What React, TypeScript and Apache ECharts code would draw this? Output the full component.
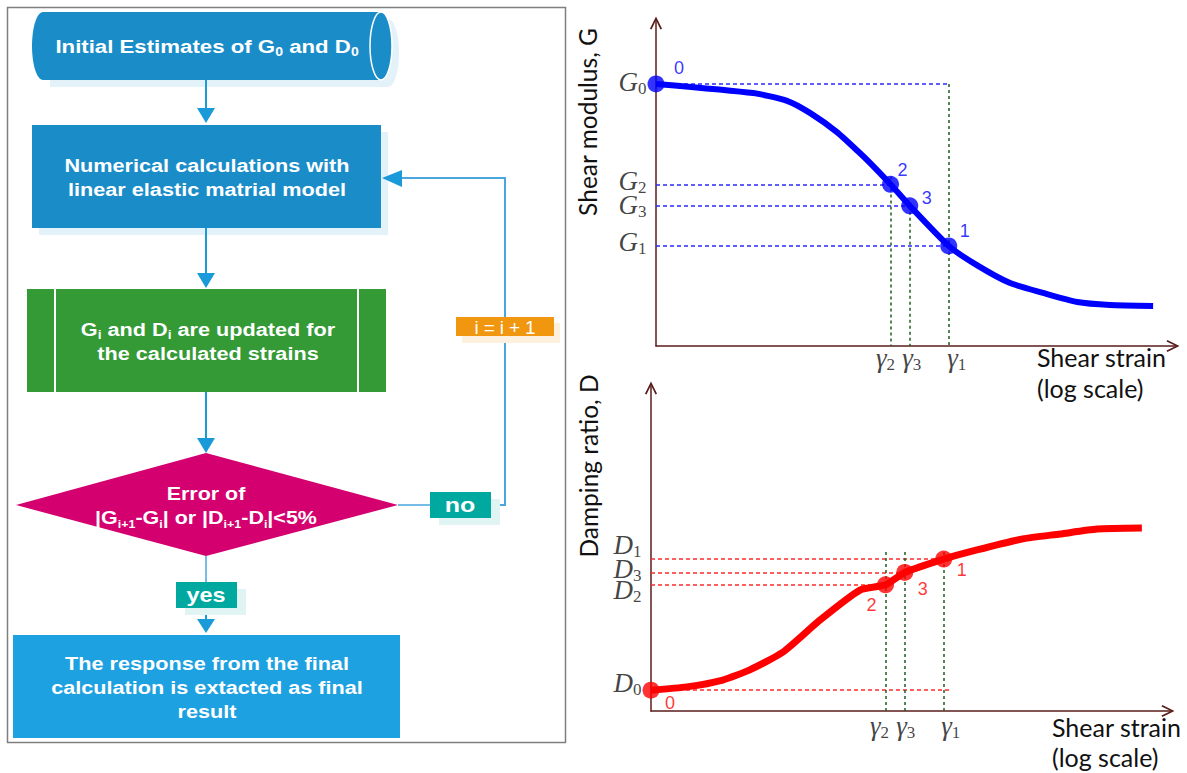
import React, { useEffect, useRef } from "react";
import * as echarts from "echarts";

// ---------------- data (relative units, strain axis is a log scale) ----------------
const iterationNames = ["0", "1", "2", "3"];
// shear strain reached in iterations 0..3 (0 = initial estimate at the axis)
const iterationStrain = [0, 56.3, 45.1, 48.8];
const gammaNames = ["", "1", "2", "3"];

// shear modulus curve G(γ)
const gCurve: number[][] = [
  [0, 80.4], [18.7, 77.6], [25.2, 75.2], [29.6, 71.5], [34.8, 65.6], [39.2, 59.2],
  [41.2, 56.1], [45.1, 49.6], [48.8, 43.0], [56.3, 30.7], [61.7, 24.8], [68.1, 19.3],
  [74.4, 16.3], [81.0, 13.5], [87.3, 12.6], [95.6, 12.3],
];
const gValues = [80.4, 30.7, 49.6, 43.0]; // G0, G1, G2, G3
const gGuideTop = [80.4, 52.0, 43.0]; // top of the γ1, γ2, γ3 guides

// damping ratio curve D(γ)
const dCurve: number[][] = [
  [0, 6.4], [6.9, 7.4], [13.8, 9.5], [19.0, 12.6], [25.4, 18.1], [32.5, 27.9],
  [40.2, 37.1], [45.1, 38.7], [48.8, 42.5], [56.3, 46.6], [62.7, 49.4], [71.5, 52.8],
  [78.7, 54.3], [85.8, 55.8], [94.4, 56.1],
];
const dValues = [6.4, 46.6, 38.7, 42.5]; // D0, D1, D2, D3
const dGuideTop = 48.8;
const dZeroGuideEnd = 57.9;

// ---------------- styling ----------------
const AXIS_COLOR = "#5a1c1c";
const BLUE = "#0000ff";
const RED = "#ff0000";
const GREEN_DASH = "#1d5e1d";
const FLOW_FONT = "Liberation Sans, Arial, sans-serif";
const MATH_FONT = "Liberation Serif, DejaVu Serif, serif";
const LABEL_FONT = "Lato, Noto Sans, sans-serif";
const CHEVRON = "path://M0,10 L5,0 L10,10 L8.7,10.7 L5,3 L1.3,10.7 Z";

const mathRich = {
  i: { fontFamily: MATH_FONT, fontStyle: "italic", fontSize: 27, lineHeight: 30, color: "#111" },
  s: { fontFamily: MATH_FONT, fontSize: 17, lineHeight: 14, verticalAlign: "bottom", color: "#111" },
};

function axisPair(gridIndex: number) {
  const base = {
    gridIndex,
    type: "value" as const,
    min: 0,
    max: 100,
    splitLine: { show: false },
    axisTick: { show: false },
    axisLabel: { show: false },
    axisLine: {
      show: true,
      onZero: false,
      symbol: ["none", CHEVRON],
      symbolSize: [15, 13],
      symbolOffset: [0, -3],
      lineStyle: { color: AXIS_COLOR, width: 1.5 },
    },
  };
  return { x: { ...base }, y: { ...base } };
}

function buildChart(
  idx: number,
  curve: number[][],
  values: number[],
  letter: string,
  color: string,
  dashColor: string,
  width: number,
  pointOffsets: number[][],
  yLabelOffsets: number[],
  xLabelOffsets: number[],
  xLabelDist: number,
  vGuides: number[][][],
  hGuides: number[][][]
) {
  const common = { xAxisIndex: idx, yAxisIndex: idx };
  return [
    {
      ...common,
      type: "lines",
      coordinateSystem: "cartesian2d",
      z: 1,
      silent: true,
      lineStyle: { color: dashColor, width: 1.5, type: [4, 3], opacity: 1 },
      data: hGuides.map((c) => ({ coords: c })),
    },
    {
      ...common,
      type: "lines",
      coordinateSystem: "cartesian2d",
      z: 1,
      silent: true,
      lineStyle: { color: GREEN_DASH, width: 1.5, type: [3, 3], opacity: 1 },
      data: vGuides.map((c) => ({ coords: c })),
    },
    {
      ...common,
      type: "line",
      z: 2,
      data: curve,
      smooth: 0.2,
      symbol: "none",
      clip: false,
      lineStyle: { color, width },
    },
    {
      ...common,
      type: "scatter",
      z: 3,
      clip: false,
      symbolSize: 17,
      itemStyle: { color },
      data: iterationNames.map((n, i) => ({
        value: [iterationStrain[i], values[i]],
        name: n,
        label: { offset: pointOffsets[i] },
      })),
      label: {
        show: true,
        position: "inside",
        formatter: (p: any) => p.name,
        color,
        fontFamily: FLOW_FONT,
        fontSize: 18,
      },
    },
    {
      ...common,
      type: "scatter",
      z: 4,
      clip: false,
      symbolSize: 1,
      itemStyle: { color: "rgba(0,0,0,0)" },
      data: iterationNames.map((n, i) => ({
        value: [0, values[i]],
        name: `{i|${letter}}{s|${n}}`,
        label: { offset: [0, yLabelOffsets[i]] },
      })),
      label: {
        show: true,
        position: "left",
        distance: 9,
        formatter: (p: any) => p.name,
        rich: mathRich,
      },
    },
    {
      ...common,
      type: "scatter",
      z: 4,
      clip: false,
      symbolSize: 1,
      itemStyle: { color: "rgba(0,0,0,0)" },
      data: [1, 2, 3].map((i) => ({
        value: [iterationStrain[i], 0],
        name: `{i|γ}{s|${gammaNames[i]}}`,
        label: { offset: [xLabelOffsets[i], 0] },
      })),
      label: {
        show: true,
        position: "bottom",
        distance: xLabelDist,
        formatter: (p: any) => p.name,
        rich: mathRich,
      },
    },
  ];
}

// ---------------- flowchart graphic helpers ----------------
const subRich = (size: number) => ({
  s: {
    fill: "#fff",
    fontFamily: FLOW_FONT,
    fontWeight: "bold",
    fontSize: size,
    lineHeight: 12,
    verticalAlign: "bottom",
  },
});

function ftext(x: number, y: number, text: string, size = 19, scaleX = 1.14, sub = 12) {
  return {
    type: "text",
    x,
    y,
    scaleX,
    z: 20,
    style: {
      text,
      fill: "#fff",
      fontFamily: FLOW_FONT,
      fontWeight: "bold",
      fontSize: size,
      lineHeight: 24,
      align: "center",
      verticalAlign: "middle",
      rich: subRich(sub),
    },
  };
}
const rect = (x: number, y: number, w: number, h: number, fill: string, z = 5) => ({
  type: "rect",
  z,
  shape: { x, y, width: w, height: h },
  style: { fill },
});
const line = (x1: number, y1: number, x2: number, y2: number, stroke: string, w = 2) => ({
  type: "line",
  z: 4,
  shape: { x1, y1, x2, y2 },
  style: { stroke, lineWidth: w },
});
const poly = (points: number[][], fill: string, z = 5) => ({
  type: "polygon",
  z,
  shape: { points },
  style: { fill },
});

const ARROW = "#1b9ad9";
const LOOP = "#4aa6de";
const BLUE_BOX = "#1a8dc9";
const SHADOW_BLUE = "#e3f1f9";

function flowchart() {
  return [
    {
      type: "rect",
      z: 1,
      shape: { x: 7.5, y: 7.5, width: 558, height: 735 },
      style: { fill: "none", stroke: "#7f7f7f", lineWidth: 1.5 },
    },
    // cylinder shadow
    rect(50, 19, 338, 68, SHADOW_BLUE, 3),
    { type: "ellipse", z: 3, shape: { cx: 388, cy: 53, rx: 11, ry: 34 }, style: { fill: SHADOW_BLUE } },
    // cylinder body
    rect(43, 12, 338, 68, BLUE_BOX),
    { type: "ellipse", z: 5, shape: { cx: 43, cy: 46, rx: 11, ry: 34 }, style: { fill: BLUE_BOX } },
    {
      type: "ellipse",
      z: 6,
      shape: { cx: 381, cy: 46, rx: 11, ry: 34 },
      style: { fill: BLUE_BOX, stroke: "#ffffff", lineWidth: 1.5 },
    },
    ftext(207, 46, "Initial Estimates of G{s|0} and D{s|0}", 19, 1.17),
    // arrow 1
    line(206, 80, 206, 112, ARROW),
    poly([[197, 108], [215, 108], [206, 123]], ARROW),
    // box 2
    rect(39, 132, 349, 103, SHADOW_BLUE, 3),
    rect(32, 125, 349, 103, BLUE_BOX),
    ftext(207, 177, "Numerical calculations with\nlinear elastic matrial model"),
    // arrow 2
    line(206, 228, 206, 276, ARROW),
    poly([[197, 273], [215, 273], [206, 288]], ARROW),
    // green box
    rect(27, 289, 359, 103, "#349a36"),
    { type: "line", z: 6, shape: { x1: 55, y1: 289, x2: 55, y2: 392 }, style: { stroke: "#fff", lineWidth: 2 } },
    { type: "line", z: 6, shape: { x1: 358, y1: 289, x2: 358, y2: 392 }, style: { stroke: "#fff", lineWidth: 2 } },
    ftext(208, 341, "G{s|i} and D{s|i} are updated for\nthe calculated strains"),
    // arrow 3
    line(206, 392, 206, 441, ARROW),
    poly([[197, 438], [215, 438], [206, 453]], ARROW),
    // decision diamond
    poly([[206, 453], [398, 505], [206, 556], [16, 505]], "#d5006f"),
    ftext(206, 505, "Error of\n|G{s|i+1}-G{s|i}| or |D{s|i+1}-D{s|i}|<5%", 19, 1.13, 11),
    // loop back
    line(398, 505, 430, 505, LOOP, 1.5),
    {
      type: "polyline",
      z: 4,
      shape: { points: [[491, 505], [505, 505], [505, 178], [400, 178]] },
      style: { stroke: LOOP, lineWidth: 2, fill: "none" },
    },
    poly([[382, 178], [402, 170], [402, 187]], ARROW),
    rect(462, 323, 98, 20, "#fdf0de", 5),
    rect(456, 317, 98, 19, "#f0960f", 6),
    {
      type: "text",
      x: 505,
      y: 327,
      z: 20,
      style: {
        text: "{c|i}{c|=}{c|i}{c|+}{c|1}",
        fill: "#fff",
        fontFamily: FLOW_FONT,
        fontSize: 19,
        align: "center",
        verticalAlign: "middle",
        rich: {
          c: { fill: "#fff", fontFamily: FLOW_FONT, fontSize: 19, padding: [0, 2.5, 0, 2.5] },
        },
      },
    },
    rect(439, 499, 61, 26, "#e0f4f3", 5),
    rect(430, 492, 61, 26, "#00a99f", 6),
    ftext(460, 505, "no", 20, 1.25),
    // yes branch
    line(206, 556, 206, 582, LOOP, 1.5),
    rect(185, 589, 61, 26, "#e0f4f3", 5),
    rect(176, 582, 61, 26, "#00a99f", 6),
    ftext(206, 595, "yes", 20, 1.17),
    line(206, 608, 206, 621, ARROW),
    poly([[197, 619], [215, 619], [206, 633]], ARROW),
    // final box
    rect(13, 635, 387, 103, "#1ea1e0"),
    ftext(207, 687, "The response from the final\ncalculation is extacted as final\nresult"),
  ];
}

function sideTexts() {
  const t = (x: number, y: number, text: string, rot = 0, align = "left") => ({
    type: "text",
    x,
    y,
    rotation: rot,
    z: 20,
    style: {
      text,
      fill: "#111",
      fontFamily: LABEL_FONT,
      fontSize: rot ? 24.5 : 25,
      align,
      verticalAlign: "middle",
    },
  });
  return [
    t(587, 122, "Shear modulus, G", Math.PI / 2, "center"),
    t(588, 466, "Damping ratio, D", Math.PI / 2, "center"),
    t(1037, 357, "Shear strain"),
    t(1037, 388, "(log scale)"),
    t(1052, 727, "Shear strain"),
    t(1052, 757, "(log scale)"),
  ];
}

export default function App() {
  const ref = useRef<HTMLDivElement>(null);
  useEffect(() => {
    if (!ref.current) return;
    const chart = echarts.init(ref.current, undefined, { renderer: "svg" });
    const top = axisPair(0);
    const bottom = axisPair(1);
    const [, g1x, g2x, g3x] = iterationStrain;

    const gH = [
      [[0, gValues[0]], [g1x, gValues[0]]],
      [[0, gValues[1]], [g1x, gValues[1]]],
      [[0, gValues[2]], [g2x, gValues[2]]],
      [[0, gValues[3]], [g3x, gValues[3]]],
    ];
    const gV = [
      [[g1x, gGuideTop[0]], [g1x, 0]],
      [[g2x, gGuideTop[1]], [g2x, 0]],
      [[g3x, gGuideTop[2]], [g3x, 0]],
    ];
    const dH = [
      [[0, dValues[0]], [dZeroGuideEnd, dValues[0]]],
      [[0, dValues[1]], [g1x, dValues[1]]],
      [[0, dValues[2]], [g2x, dValues[2]]],
      [[0, dValues[3]], [g3x, dValues[3]]],
    ];
    const dV = [g1x, g2x, g3x].map((x) => [[x, dGuideTop], [x, 0]]);

    chart.setOption({
      animation: false,
      backgroundColor: "#ffffff",
      grid: [
        { left: 656, top: 20, width: 520, height: 326 },
        { left: 651, top: 385, width: 520, height: 326 },
      ],
      xAxis: [top.x, bottom.x],
      yAxis: [top.y, bottom.y],
      series: [
        ...buildChart(0, gCurve, gValues, "G", BLUE, "#2a2aff", 6,
          [[23, -16], [16, -15], [12, -14], [17, -8]],
          [-2, -4, -3, -1],
          [0, 8, -5, 2], -4, gV, gH),
        ...buildChart(1, dCurve, dValues, "D", RED, "#ff2a2a", 7,
          [[19, 13], [18, 11], [-14, 20], [18, 17]],
          [-7, -14, 5, -3],
          [0, 7, -6, 1], -1, dV, dH),
      ],
      graphic: { elements: [...flowchart(), ...sideTexts()] },
    });
    return () => chart.dispose();
  }, []);
  return (
    <div
      ref={ref}
      style={{ position: "absolute", left: 0, top: 0, width: 1187, height: 773 }}
    />
  );
}
